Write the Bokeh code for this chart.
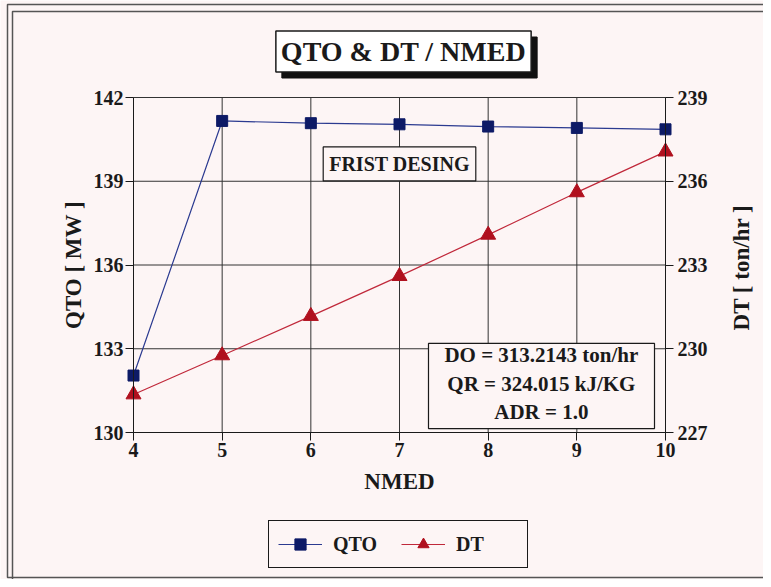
import math
from bokeh.plotting import figure
from bokeh.models import Range1d, LinearAxis, Legend, LegendItem, Label, BoxAnnotation
from bokeh.embed import file_html
from bokeh.resources import INLINE

# ---- data ----
nmed = [4, 5, 6, 7, 8, 9, 10]
qto = [132.04, 141.16, 141.08, 141.04, 140.96, 140.91, 140.86]
dt = [228.36, 229.76, 231.17, 232.60, 234.08, 235.60, 237.06]
nmed_ticks = [4, 5, 6, 7, 8, 9, 10]
qto_ticks = [130, 133, 136, 139, 142]
dt_ticks = [227, 230, 233, 236, 239]
title_text = "QTO & DT / NMED"
note_text = "FRIST DESING"
info_lines = ["DO = 313.2143 ton/hr", "QR = 324.015 kJ/KG", "ADR = 1.0"]
dt_label = "DT [ ton/hr ]"

BG = "#fdf5f5"
FONT = "Liberation Serif"
INK = "#1a1a1a"
GRID = "#333333"
QTO_C = "#0d1a66"
QTO_L = "#2b3a90"
DT_C = "#b0101e"
DT_L = "#c0283a"

W, H = 763, 579
# plot area in canvas pixels: x 4..10 -> 133..665, y 130..142 -> 432..97
PX_X = (665 - 133) / 6.0
PX_Y = (432 - 97) / 12.0
x_rng = Range1d(4 - 133 / PX_X, 10 + (W - 665) / PX_X)
y_rng = Range1d(142 - (H - 97) / PX_Y, 142 + 97 / PX_Y)
dt_rng = Range1d(239 - (H - 97) / PX_Y, 239 + 97 / PX_Y)

p = figure(width=W, height=H, output_backend="svg", toolbar_location=None,
           x_range=x_rng, y_range=y_rng, min_border=0,
           background_fill_color=BG, border_fill_color=BG)
p.extra_y_ranges = {"dt": dt_rng}
p.outline_line_color = None
p.grid.visible = False

# grid lines over the plot area only
p.segment(x0=nmed_ticks, y0=[qto_ticks[0]] * len(nmed_ticks), x1=nmed_ticks,
          y1=[qto_ticks[-1]] * len(nmed_ticks), line_color=GRID, line_width=1, level="underlay")
p.segment(x0=[nmed_ticks[0]] * len(qto_ticks), y0=qto_ticks, x1=[nmed_ticks[-1]] * len(qto_ticks),
          y1=qto_ticks, line_color=GRID, line_width=1, level="underlay")


def style_axis(ax):
    ax.major_label_text_font = FONT
    ax.major_label_text_font_style = "bold"
    ax.major_label_text_font_size = "20px"
    ax.major_label_text_color = INK
    ax.axis_line_color = INK
    ax.major_tick_line_color = INK
    ax.major_tick_out = 8
    ax.major_tick_in = 0
    ax.minor_tick_line_color = None
    ax.axis_label_text_font = FONT
    ax.axis_label_text_font_style = "bold"
    ax.axis_label_text_font_size = "23px"
    ax.axis_label_text_color = INK


xa = p.xaxis[0]
style_axis(xa)
xa.ticker = nmed_ticks
xa.bounds = (4, 10)
xa.fixed_location = 130
xa.axis_label = "NMED"
xa.major_label_standoff = 2
xa.axis_label_standoff = 9

ya = p.yaxis[0]
style_axis(ya)
ya.ticker = qto_ticks
ya.bounds = (130, 142)
ya.fixed_location = 4
ya.axis_label = "QTO [ MW ]"
ya.major_label_standoff = 2
ya.axis_label_standoff = 5

ra = LinearAxis(y_range_name="dt", ticker=dt_ticks, bounds=(227, 239), fixed_location=10)
style_axis(ra)
ra.major_label_standoff = 4
p.add_layout(ra, "right")

# series
l1 = p.line(nmed, qto, line_color=QTO_L, line_width=1.2)
s1 = p.scatter(nmed, qto, marker="square", size=11, fill_color=QTO_C, line_color=QTO_C)
l2 = p.line(nmed, dt, line_color=DT_L, line_width=1.2, y_range_name="dt")
s2 = p.scatter(nmed, dt, marker="triangle", size=15, fill_color=DT_C, line_color=DT_C,
               y_range_name="dt")

# outer double frame of the picture
p.add_layout(BoxAnnotation(left=7, right=W + 20, top=H - 4, bottom=2,
                           left_units="screen", right_units="screen",
                           top_units="screen", bottom_units="screen",
                           fill_alpha=0, line_color="#555555", line_alpha=1, line_width=1.5,
                           level="underlay"))
p.add_layout(BoxAnnotation(left=12, right=W + 20, top=H - 11, bottom=-20,
                           left_units="screen", right_units="screen",
                           top_units="screen", bottom_units="screen",
                           fill_alpha=0, line_color="#555555", line_alpha=1, line_width=1.5,
                           level="underlay"))

# right axis title (reads bottom-to-top)
p.add_layout(Label(x=741, y=H - 267, x_units="screen", y_units="screen", text=dt_label,
                   angle=math.pi / 2, text_align="center", text_baseline="middle",
                   text_font=FONT, text_font_style="bold", text_font_size="23px",
                   text_color=INK))

# title with drop shadow
tx, ty = 403, H - 51
common = dict(x_units="screen", y_units="screen", text=title_text, text_align="center",
              text_baseline="middle", text_font=FONT, text_font_size="28px",
              text_font_style="bold", padding=5)
p.add_layout(Label(x=tx + 6, y=ty - 6, text_color="#111111", background_fill_color="#111111",
                   border_line_color="#111111", **common))
p.add_layout(Label(x=tx, y=ty, text_color=INK, background_fill_color="#ffffff",
                   border_line_color=INK, border_line_width=1.5, **common))

# FRIST DESING box
p.add_layout(Label(x=7.0, y=139.62, text=note_text, text_align="center", text_baseline="middle",
                   text_font=FONT, text_font_size="20px", text_font_style="bold",
                   text_color=INK, padding=6,
                   background_fill_color=BG, border_line_color=INK, border_line_width=1.2))

# info box
p.add_layout(BoxAnnotation(left=7.327, right=9.876, bottom=130.14, top=133.19,
                           fill_color=BG, fill_alpha=1, line_color=INK, line_alpha=1,
                           line_width=1.2))
for i, t in enumerate(info_lines):
    p.add_layout(Label(x=8.60, y=132.76 - i * 1.005, text=t, text_align="center",
                       text_baseline="middle", text_font=FONT, text_font_style="bold",
                       text_font_size="21px", text_color=INK))

legend = Legend(items=[LegendItem(label="QTO", renderers=[l1, s1]),
                       LegendItem(label="DT", renderers=[l2, s2])],
                orientation="horizontal", location=(268, H - 568),
                glyph_width=44, glyph_height=28, label_standoff=11, label_width=62,
                spacing=6, padding=9, margin=0,
                label_text_font=FONT, label_text_font_style="bold",
                label_text_font_size="20px", label_text_color=INK,
                border_line_color=INK, border_line_width=1.2, border_line_alpha=1,
                background_fill_color=BG, background_fill_alpha=1)
p.add_layout(legend, "center")

open("out.html", "w").write(file_html(p, INLINE))
